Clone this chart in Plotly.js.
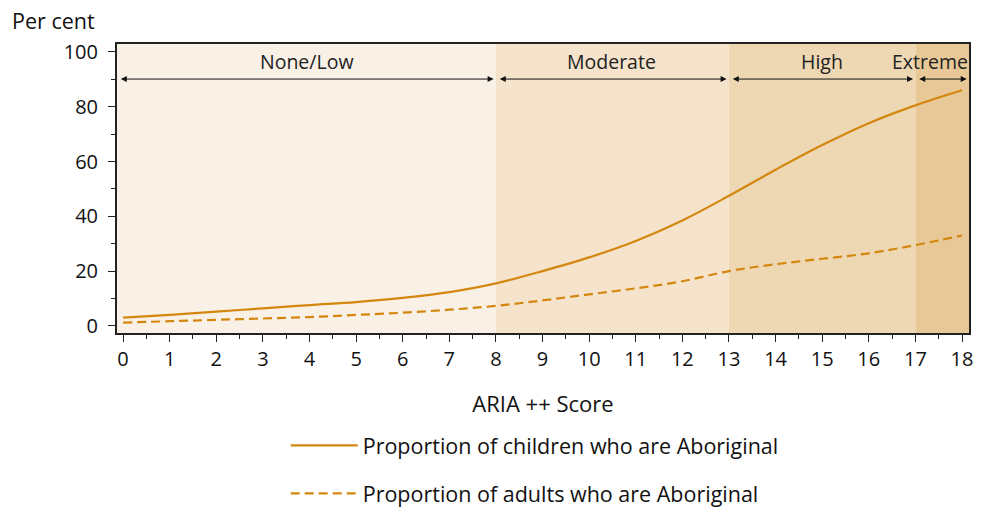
<!DOCTYPE html>
<html>
<head>
<meta charset="utf-8">
<script src="https://cdn.plot.ly/plotly-3.0.1.min.js"></script>
<style>html,body{margin:0;padding:0;background:#fff;}#chart{width:981px;height:507px;}</style>
</head>
<body>
<div id="chart"></div>
<script>
// ---- data ----
const ariaScore = [0,1,2,3,4,5,6,7,8,9,10,11,12,13,14,15,16,17,18];
const childrenPct = [3,4,5.2,6.4,7.6,8.7,10.2,12.3,15.5,20,25,31,38.5,47.5,57,66,74,80.5,86];
const adultsPct = [1.2,1.7,2.2,2.7,3.2,4,4.8,5.9,7.3,9.3,11.5,13.7,16.3,20,22.5,24.5,26.5,29.5,33];
const bandNames = ["None/Low","Moderate","High","Extreme"];
const bandStart = [-0.13,8,13,17];
const bandEnd = [8,13,17,18.15];
const bandLabelX = [3.95,10.47,15,17.31];
const bandColors = ["#faf1e6","#f5e4cb","#eed7b3","#e8c896"];
const seriesNames = ["Proportion of children who are Aboriginal","Proportion of adults who are Aboriginal"];

const lineColor = "#d4870f";
const font = "Open Sans, sans-serif";

const shapes = bandNames.map((n,i)=>({
  type:"rect", xref:"x", yref:"paper", x0:bandStart[i], x1:bandEnd[i], y0:0, y1:1,
  fillcolor:bandColors[i], line:{width:0}, layer:"below"
}));

const annotations = [];
bandNames.forEach((n,i)=>{
  annotations.push({x:bandLabelX[i], y:96.4, xref:"x", yref:"y", text:n, showarrow:false,
    font:{family:font, size:19.5, color:"#222"}});
  annotations.push({x:bandEnd[i]-0.05, y:90.1, ax:bandStart[i]+0.05, ay:90.1, xref:"x", yref:"y",
    axref:"x", ayref:"y", text:"", showarrow:true, arrowside:"end+start", arrowhead:2,
    arrowsize:1.2, arrowwidth:1, arrowcolor:"#111", startarrowhead:2, startarrowsize:1.2});
});
annotations.push({xref:"paper", yref:"paper", x:-0.1256, y:1.083, xanchor:"left", yanchor:"middle",
  text:"Per cent", showarrow:false, font:{family:font, size:21.5, color:"#111"}});

const traces = [
  {x:ariaScore, y:childrenPct, name:seriesNames[0], legendgroup:"c", type:"scatter", mode:"lines",
   line:{color:lineColor, width:2.2, shape:"spline"}},
  {x:ariaScore, y:adultsPct, name:seriesNames[1], legendgroup:"a", type:"scatter", mode:"lines",
   line:{color:lineColor, width:2.2, dash:"9px,5px", shape:"spline"}}
];

const layout = {
  width:981, height:507,
  margin:{l:117, r:12, t:44, b:174, autoexpand:false},
  paper_bgcolor:"#fff", plot_bgcolor:"rgba(0,0,0,0)",
  font:{family:font, size:20, color:"#111"},
  showlegend:true,
  legend:{x:0.198, xanchor:"left", y:-0.318, yanchor:"top", orientation:"v",
    font:{family:font, size:21.5, color:"#111"}, tracegroupgap:17, itemwidth:67,
    bgcolor:"rgba(0,0,0,0)"},
  xaxis:{range:[-0.13,18.15], tickmode:"array", tickvals:ariaScore, ticks:"outside", ticklen:7,
    tickcolor:"#222", showgrid:false, zeroline:false, showline:true, linecolor:"#222", linewidth:2,
    mirror:true, minor:{dtick:0.5, tick0:0, ticks:"outside", ticklen:4, tickcolor:"#222", showgrid:false},
    title:{text:"ARIA ++ Score", font:{family:font, size:22, color:"#111"}, standoff:26},
    tickfont:{family:font, size:20, color:"#111"}, automargin:false},
  yaxis:{range:[-2.6,102.9], tickmode:"array", tickvals:[0,20,40,60,80,100], ticks:"outside", ticklen:7,
    tickcolor:"#222", showgrid:false, zeroline:false, showline:true, linecolor:"#222", linewidth:2,
    mirror:true, minor:{dtick:10, tick0:0, ticks:"outside", ticklen:4, tickcolor:"#222", showgrid:false},
    tickfont:{family:font, size:20, color:"#111"}, ticklabelstandoff:6, automargin:false},
  shapes:shapes, annotations:annotations
};

Plotly.newPlot("chart", traces, layout, {displayModeBar:false, staticPlot:true});
</script>
</body>
</html>
